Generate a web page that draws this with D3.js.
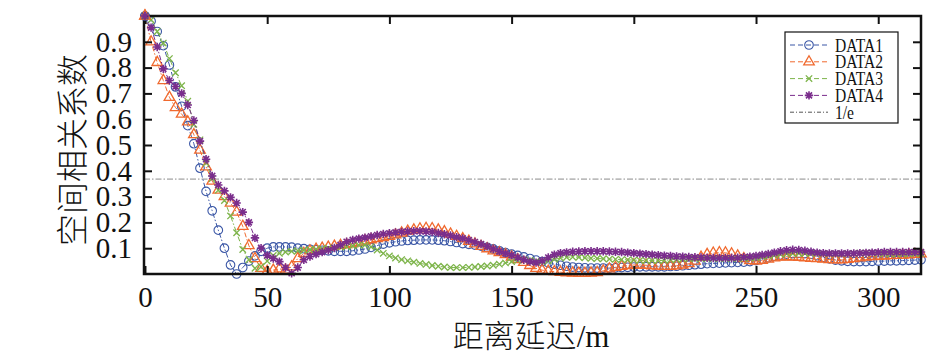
<!DOCTYPE html>
<html><head><meta charset="utf-8">
<script src="https://cdn.jsdelivr.net/npm/d3@7"></script>
<style>
html,body{margin:0;padding:0;background:#fff;}
svg{display:block;}
.num{font-family:'Liberation Serif','Times New Roman',serif;}
</style></head>
<body>
<svg id="chart" width="943" height="359"></svg>
<script>
// ---- data ----
const lagStep = 2.5;
const lags = d3.range(0, 128).map(i => i * lagStep); // 0 .. 317.5 m
const data1 = [1.00,0.98,0.94,0.885,0.81,0.725,0.65,0.575,0.505,0.41,0.32,0.245,0.17,0.10,0.035,0.00,0.025,0.05,0.07,0.088,
0.10,0.105,0.105,0.105,0.104,0.10,0.098,0.096,0.094,0.092,0.09,0.088,0.088,0.088,0.09,0.093,0.097,0.103,0.11,0.116,
0.121,0.125,0.128,0.13,0.131,0.132,0.132,0.132,0.131,0.129,0.126,0.122,0.118,0.115,0.112,0.108,0.103,0.097,0.09,0.083,
0.077,0.072,0.066,0.06,0.054,0.048,0.043,0.038,0.034,0.03,0.027,0.025,0.024,0.023,0.023,0.023,0.023,0.024,0.025,0.026,
0.027,0.028,0.028,0.028,0.028,0.028,0.029,0.03,0.032,0.034,0.036,0.038,0.04,0.041,0.042,0.043,0.044,0.045,0.046,0.048,
0.052,0.057,0.063,0.069,0.074,0.077,0.079,0.08,0.079,0.076,0.071,0.065,0.059,0.054,0.051,0.049,0.048,0.048,0.048,0.049,
0.05,0.05,0.051,0.051,0.052,0.053,0.054,0.055];
const data2 = [1.00,0.90,0.82,0.75,0.685,0.645,0.62,0.59,0.54,0.48,0.415,0.36,0.325,0.30,0.275,0.24,0.185,0.11,0.06,0.022,
0.01,0.015,0.02,0.015,0.028,0.06,0.08,0.09,0.096,0.10,0.104,0.108,0.111,0.114,0.118,0.123,0.128,0.133,0.137,0.141,
0.146,0.152,0.159,0.166,0.171,0.175,0.177,0.176,0.171,0.164,0.155,0.146,0.137,0.127,0.117,0.107,0.098,0.09,0.083,0.075,
0.066,0.056,0.045,0.033,0.022,0.015,0.011,0.009,0.007,0.005,0.004,0.003,0.003,0.004,0.006,0.012,0.02,0.026,0.03,0.033,
0.035,0.035,0.034,0.032,0.031,0.03,0.03,0.032,0.035,0.04,0.05,0.065,0.076,0.081,0.083,0.082,0.078,0.07,0.06,0.052,
0.05,0.053,0.058,0.063,0.066,0.067,0.066,0.065,0.063,0.061,0.06,0.058,0.056,0.055,0.055,0.057,0.06,0.063,0.066,0.068,
0.069,0.07,0.071,0.072,0.073,0.074,0.076,0.078];
const data3 = [1.00,0.985,0.94,0.895,0.835,0.78,0.73,0.67,0.58,0.52,0.43,0.37,0.325,0.285,0.225,0.16,0.095,0.055,0.022,0.028,
0.05,0.072,0.08,0.085,0.088,0.09,0.092,0.094,0.096,0.098,0.10,0.102,0.104,0.106,0.109,0.112,0.112,0.105,0.093,0.08,
0.07,0.062,0.056,0.051,0.046,0.041,0.037,0.033,0.03,0.027,0.025,0.025,0.025,0.026,0.027,0.029,0.031,0.034,0.038,0.043,
0.048,0.053,0.056,0.053,0.049,0.048,0.051,0.057,0.062,0.065,0.066,0.065,0.063,0.061,0.06,0.059,0.058,0.057,0.056,0.055,
0.054,0.053,0.052,0.052,0.052,0.053,0.055,0.057,0.059,0.06,0.06,0.06,0.06,0.06,0.06,0.06,0.06,0.06,0.061,0.062,
0.064,0.067,0.07,0.073,0.076,0.078,0.079,0.08,0.08,0.08,0.08,0.079,0.078,0.078,0.078,0.079,0.08,0.081,0.081,0.081,
0.08,0.079,0.078,0.078,0.078,0.078,0.079,0.08];
const data4 = [1.00,0.955,0.88,0.795,0.75,0.727,0.70,0.655,0.595,0.515,0.445,0.38,0.345,0.322,0.297,0.275,0.24,0.20,0.14,0.10,
0.072,0.06,0.048,0.025,0.003,0.025,0.055,0.068,0.077,0.085,0.092,0.101,0.113,0.125,0.132,0.137,0.141,0.146,0.151,0.155,
0.158,0.161,0.163,0.165,0.166,0.166,0.165,0.163,0.159,0.154,0.149,0.143,0.138,0.131,0.124,0.116,0.107,0.097,0.088,0.08,
0.073,0.064,0.055,0.048,0.044,0.052,0.064,0.075,0.081,0.084,0.086,0.087,0.088,0.088,0.088,0.088,0.087,0.086,0.085,0.083,
0.081,0.079,0.077,0.075,0.073,0.071,0.07,0.068,0.067,0.066,0.065,0.064,0.063,0.062,0.062,0.062,0.062,0.063,0.065,0.067,
0.07,0.074,0.078,0.083,0.088,0.092,0.094,0.093,0.09,0.086,0.083,0.081,0.08,0.08,0.08,0.08,0.08,0.081,0.082,0.083,
0.084,0.085,0.085,0.085,0.085,0.085,0.085,0.085];
const seriesNames = ["DATA1","DATA2","DATA3","DATA4"];
const seriesColors = ["#3b57a6","#f0692e","#7db44a","#7a2d8c"];
const seriesMarkers = ["circle","triangle","cross","star"];
const refValue = 1 / Math.E;
const refLabel = "1/e";
const xTicks = [0,50,100,150,200,250,300];
const yTicks = [0.1,0.2,0.3,0.4,0.5,0.6,0.7,0.8,0.9];
const xTitle = "距离延迟/m";
const yTitle = "空间相关系数";

// ---- layout ----
const svg = d3.select("#chart");
const L = 144, R = 921, T = 16, B = 274;
const x = d3.scaleLinear().domain([-0.4, 317.5]).range([L, R]);
const y = d3.scaleLinear().domain([0, 1.0]).range([B, T]);
const numFont = "'Liberation Serif','Times New Roman',serif";

const series = [data1, data2, data3, data4].map((vals, i) => ({
  name: seriesNames[i], color: seriesColors[i], marker: seriesMarkers[i],
  pts: lags.map((l, j) => ({x: l, y: vals[j]}))
}));

function drawMarker(g, type, color) {
  if (type === "circle") {
    g.append("circle").attr("r", 4.3).attr("fill", "none").attr("stroke", color).attr("stroke-width", 1.1);
  } else if (type === "triangle") {
    g.append("path").attr("d", d3.symbol(d3.symbolTriangle, 48)()).attr("fill", "none")
      .attr("stroke", color).attr("stroke-width", 1.3);
  } else if (type === "cross") {
    const s = 3.2;
    g.append("path").attr("d", `M${-s},${-s}L${s},${s}M${-s},${s}L${s},${-s}`)
      .attr("stroke", color).attr("stroke-width", 1.3);
  } else {
    const s = 4.2, d = s * 0.72;
    g.append("path").attr("d", `M${-s},0L${s},0M0,${-s}L0,${s}M${-d},${-d}L${d},${d}M${-d},${d}L${d},${-d}`)
      .attr("stroke", color).attr("stroke-width", 1.6);
  }
}

// reference line 1/e
svg.append("line").attr("x1", L).attr("x2", R).attr("y1", y(refValue)).attr("y2", y(refValue))
  .attr("stroke", "#8a8a8a").attr("stroke-width", 1).attr("stroke-dasharray", "6,2,1.5,2");

// series
const line = d3.line().x(d => x(d.x)).y(d => y(d.y));
series.forEach(s => {
  const g = svg.append("g");
  g.append("path").datum(s.pts).attr("d", line).attr("fill", "none")
    .attr("stroke", s.color).attr("stroke-width", 1).attr("stroke-dasharray", "5,2,1.5,2");
  g.selectAll("g.m").data(s.pts).join("g").attr("class", "m")
    .attr("transform", d => `translate(${x(d.x)},${y(d.y)})`)
    .each(function() { drawMarker(d3.select(this), s.marker, s.color); });
});

// axes (ticks inward)
function styleAxis(g) {
  g.attr("font-family", null).attr("font-size", null);
  g.select(".domain").remove();
  g.selectAll(".tick line").attr("stroke", "#111").attr("stroke-width", 2);
  g.selectAll(".tick text").attr("class", "num").style("font-family", numFont)
    .style("font-size", "29px").attr("fill", "#111");
}
svg.append("g").attr("transform", `translate(0,${B})`)
  .call(d3.axisBottom(x).tickValues(xTicks).tickSize(-8).tickPadding(12).tickFormat(d3.format("d")))
  .call(styleAxis);
svg.append("g").attr("transform", `translate(0,${T})`)
  .call(d3.axisTop(x).tickValues(xTicks).tickSize(-8).tickFormat(""))
  .call(styleAxis);
svg.append("g").attr("transform", `translate(${L},0)`)
  .call(d3.axisLeft(y).tickValues(yTicks).tickSize(-8).tickPadding(12).tickFormat(d3.format(".1f")))
  .call(styleAxis);
svg.append("g").attr("transform", `translate(${R},0)`)
  .call(d3.axisRight(y).tickValues(yTicks).tickSize(-8).tickFormat(""))
  .call(styleAxis);

// frame
svg.append("rect").attr("x", L).attr("y", T).attr("width", R - L).attr("height", B - T)
  .attr("fill", "none").attr("stroke", "#111").attr("stroke-width", 2.5);

// first-point markers drawn above the frame (as in the reference)
series.forEach(s => {
  const g = svg.append("g").attr("transform", `translate(${x(s.pts[0].x)},${y(s.pts[0].y)})`);
  drawMarker(g, s.marker, s.color);
});

// axis titles
const xt = svg.append("text").attr("x", 531).attr("y", 347).attr("text-anchor", "middle")
  .style("font-size", "31px").attr("fill", "#111");
xt.append("tspan").style("font-family", "'Noto Sans CJK SC',sans-serif").style("font-weight", 300).text(xTitle.slice(0, 4));
xt.append("tspan").style("font-family", numFont).text(xTitle.slice(4));
svg.append("text").attr("transform", "translate(84,150) rotate(-90)").attr("text-anchor", "middle")
  .style("font-family", "'Noto Sans CJK SC',sans-serif").style("font-weight", 300)
  .style("font-size", "32px").attr("fill", "#111").text(yTitle);

// legend
const lg = svg.append("g");
const lx = 785, ly = 32, lw = 113, lh = 91;
lg.append("rect").attr("x", lx).attr("y", ly).attr("width", lw).attr("height", lh)
  .attr("fill", "#fff").attr("stroke", "#111").attr("stroke-width", 1.2);
const items = series.map(s => ({name: s.name, color: s.color, marker: s.marker, dash: "5,3"}))
  .concat([{name: refLabel, color: "#555", marker: null, dash: "4,2,1,2"}]);
items.forEach((it, i) => {
  const cy = ly + 13 + i * 16.8;
  lg.append("line").attr("x1", lx + 5).attr("x2", lx + 43).attr("y1", cy).attr("y2", cy)
    .attr("stroke", it.color).attr("stroke-width", 1).attr("stroke-dasharray", it.dash);
  if (it.marker) drawMarker(lg.append("g").attr("transform", `translate(${lx + 24},${cy})`), it.marker, it.color);
  lg.append("text").attr("transform", `translate(${lx + 50},${cy + 6.5}) scale(0.82,1)`)
    .style("font-family", numFont).style("font-size", "19px").attr("fill", "#111").text(it.name);
});
</script>
</body></html>
